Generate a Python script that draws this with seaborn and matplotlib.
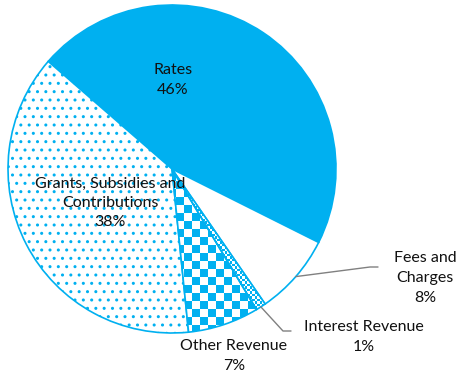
import numpy as np
import matplotlib
matplotlib.use("Agg")
import matplotlib.pyplot as plt
from matplotlib.colors import ListedColormap
import seaborn as sns

# ---- data ----
categories = ["Rates", "Fees and\nCharges", "Interest Revenue", "Other Revenue",
              "Grants, Subsidies and\nContributions"]
shares = [46, 8, 1, 7, 38]
pct_labels = ["46%", "8%", "1%", "7%", "38%"]

# ---- style ----
sns.set_theme(style="white")
plt.rcParams['font.family'] = ['Lato', 'DejaVu Sans']
BLUE = "#00B0F0"
plt.rcParams['hatch.color'] = BLUE
plt.rcParams['hatch.linewidth'] = 1.0

W, H = 458, 377
cx, cy, R = 172, 169, 164  # pie geometry in pixels

fig = plt.figure(figsize=(W / 100, H / 100), dpi=100)
ax = fig.add_axes([0, 0, 1, 1])

wedges, _ = ax.pie(shares, startangle=139, counterclock=False, radius=1,
                   colors=[BLUE, "white", "white", "white", "white"],
                   wedgeprops=dict(edgecolor=BLUE, linewidth=1.2))

ax.set_xlim(-cx / R, (W - cx) / R)
ax.set_ylim(-(H - cy) / R, cy / R)
ax.set_aspect('equal', adjustable='datalim')
ax.axis('off')

# Grants: dotted fill
wedges[4].set_hatch('..')


def checker(wedge, cell_px):
    cell = cell_px / R
    n = int(np.ceil(2.2 / cell))
    grid = np.add.outer(np.arange(n), np.arange(n)) % 2
    ext = (-1.1, -1.1 + n * cell, -1.1, -1.1 + n * cell)
    im = ax.imshow(grid, cmap=ListedColormap(["white", BLUE]), extent=ext,
                   interpolation='nearest', zorder=1.5, origin='lower')
    im.set_clip_path(wedge)
    wedge.set_facecolor('none')
    wedge.set_zorder(2)


checker(wedges[3], 8)
checker(wedges[2], 2.5)

ax.set_xlim(-cx / R, (W - cx) / R)
ax.set_ylim(-(H - cy) / R, cy / R)

# ---- labels ----
label_px = [(173, 80), (425, 278), (364, 337), (234, 356), (110, 203)]
txt_color = "#111111"
for cat, pct, (px, py) in zip(categories, pct_labels, label_px):
    ax.text((px - cx) / R, (cy - py) / R, f"{cat}\n{pct}", ha='center', va='center',
            fontsize=11.5, color=txt_color, linespacing=1.5, zorder=5)

# leader lines (from wedge mid-angle on circumference)
def leader(i, bend_px, end_px):
    w = wedges[i]
    mid = np.deg2rad((w.theta1 + w.theta2) / 2)
    x0, y0 = np.cos(mid), np.sin(mid)
    xs = [x0, (bend_px[0] - cx) / R, (end_px[0] - cx) / R]
    ys = [y0, (cy - bend_px[1]) / R, (cy - end_px[1]) / R]
    ax.plot(xs, ys, color="#808080", lw=1.0, zorder=4)

leader(1, (370, 267), (378, 267))
leader(2, (283, 331), (291, 331))

fig.savefig("out.png", dpi=100, facecolor="white")
